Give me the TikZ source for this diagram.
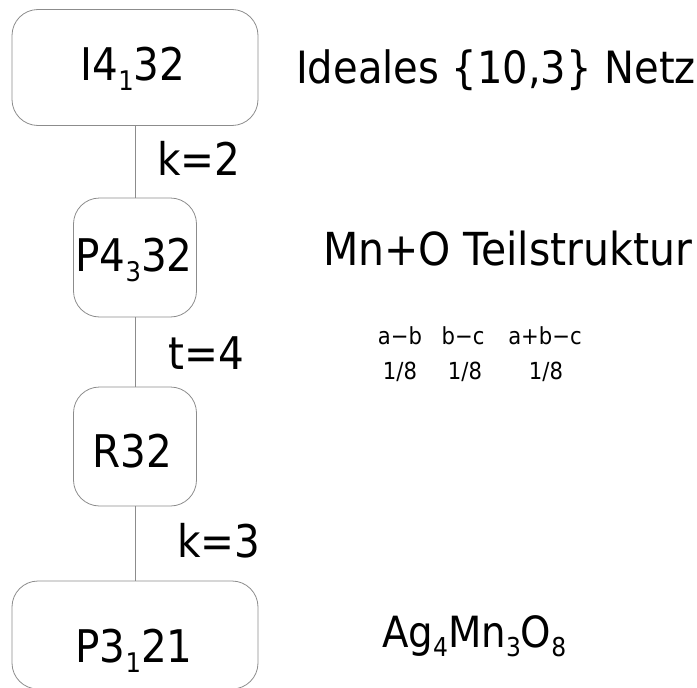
\documentclass[tikz,border=0pt]{standalone}
\usepackage{fontspec}
\setmainfont{DejaVu Sans Condensed}
\newcommand\sbs[1]{\raisebox{-10pt}{\fontsize{27}{27}\selectfont #1}}
\newcommand\ssb[1]{\raisebox{-9pt}{\fontsize{26}{26}\selectfont #1}}
\begin{document}
\begin{tikzpicture}[x=1pt,y=-1pt,
  grp/.style={draw=black!45,line width=0.8pt,rounded corners=26pt,inner sep=0pt},
  big/.style={font=\fontsize{45}{45}\selectfont,inner sep=0pt},
  side/.style={inner sep=0pt,anchor=base west},
  small/.style={font=\fontsize{23.5}{23.5}\selectfont,inner sep=0pt,anchor=base},
  conn/.style={draw=black!45,line width=0.8pt}]
\useasboundingbox (0,0) rectangle (697,688);
\node[grp,minimum width=246pt,minimum height=116pt] (b1) at (135,67.5) {};
\node[grp,minimum width=123pt,minimum height=119pt] (b2) at (135,257.5) {};
\node[grp,minimum width=123pt,minimum height=119pt] (b3) at (135,446.5) {};
\node[grp,minimum width=246pt,minimum height=108pt] (b4) at (135,635) {};
\draw[conn] (b1.south) -- (b2.north);
\draw[conn] (b2.south) -- (b3.north);
\draw[conn] (b3.south) -- (b4.north);
\node[big,anchor=base] (t1) at (133,80) {I4\sbs{1}32};
\node[big,anchor=base] (t2) at (134,271) {P4\sbs{3}32};
\node[big,anchor=base] (t3) at (132,467) {R32};
\node[big,anchor=base] (t4) at (134,662) {P3\sbs{1}21};
\node[big,anchor=base west] (k2) at (157,175) {k=2};
\node[big,anchor=base west] (t4l) at (168,369) {t=4};
\node[big,anchor=base west] (k3) at (177,557) {k=3};
\node[side,font=\fontsize{44.5}{44.5}\selectfont] (n1) at (296,83) {Ideales \{10,3\} Netz};
\node[side,font=\fontsize{45.5}{45.5}\selectfont] (n2) at (323,265) {Mn+O Teilstruktur};
\node[side,font=\fontsize{43}{43}\selectfont] (n3) at (382,647) {Ag\ssb{4}Mn\ssb{3}O\ssb{8}};
\node[small] (s1) at (400,344) {a−b};
\node[small] (s2) at (463,344) {b−c};
\node[small] (s3) at (545,344) {a+b−c};
\node[small] (s4) at (400,379) {1/8};
\node[small] (s5) at (465,379) {1/8};
\node[small] (s6) at (546,379) {1/8};
\end{tikzpicture}
\end{document}
